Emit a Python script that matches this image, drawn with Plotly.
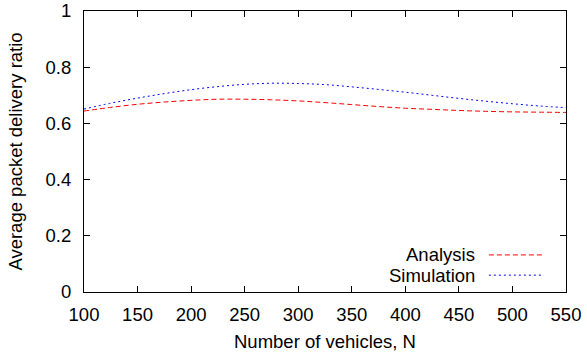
import plotly.graph_objects as go

N = [100, 125, 150, 175, 200, 225, 250, 275, 300, 325, 350, 375, 400, 425, 450, 475, 500, 525, 550]
simulation = [0.651, 0.672, 0.690, 0.706, 0.720, 0.731, 0.739, 0.743, 0.742, 0.738, 0.730, 0.721,
              0.711, 0.700, 0.689, 0.679, 0.670, 0.662, 0.656]
analysis = [0.644, 0.657, 0.668, 0.676, 0.682, 0.686, 0.686, 0.684, 0.680, 0.674, 0.667, 0.660,
            0.654, 0.650, 0.646, 0.643, 0.641, 0.640, 0.639]
x_ticks = [100, 150, 200, 250, 300, 350, 400, 450, 500, 550]
y_ticks = [0, 0.2, 0.4, 0.6, 0.8, 1]
y_tick_labels = ["0", "0.2", "0.4", "0.6", "0.8", "1"]

FONT = "Liberation Sans, Arial, sans-serif"
FS = 18.5
RED = "#ff0000"
BLUE = "#0000ff"
RED_DASH = "5px,3px"
BLUE_DASH = "2px,3px"

fig = go.Figure()
fig.add_trace(go.Scatter(x=N, y=analysis, mode="lines", name="Analysis",
                         line=dict(color=RED, width=1, dash=RED_DASH, shape="spline")))
fig.add_trace(go.Scatter(x=N, y=simulation, mode="lines", name="Simulation",
                         line=dict(color=BLUE, width=1, dash=BLUE_DASH, shape="spline")))

# gnuplot-style legend: text on the left, sample line on the right
legend_rows = [("Analysis", RED, RED_DASH, 0.132), ("Simulation", BLUE, BLUE_DASH, 0.060)]
for label, color, dash, yy in legend_rows:
    fig.add_annotation(x=0.815, y=yy, xref="paper", yref="paper", text=label, showarrow=False,
                       xanchor="right", yanchor="middle", font=dict(family=FONT, size=FS, color="black"))
    fig.add_shape(type="line", xref="paper", yref="paper", x0=0.840, x1=0.952, y0=yy, y1=yy,
                  line=dict(color=color, width=1, dash=dash))

axis_common = dict(showline=True, linecolor="black", linewidth=1, mirror="allticks",
                   ticks="inside", ticklen=6, tickcolor="black", showgrid=False, zeroline=False,
                   automargin=False,
                   tickfont=dict(family=FONT, size=FS, color="black"))

fig.update_layout(
    width=587, height=358,
    margin=dict(l=84, r=21, t=11, b=66, autoexpand=False),
    paper_bgcolor="white", plot_bgcolor="white",
    showlegend=False,
    font=dict(family=FONT, size=FS, color="black"),
    xaxis=dict(range=[100, 550], tickvals=x_ticks, ticklabelstandoff=6,
               title=dict(text="Number of vehicles, N", font=dict(family=FONT, size=FS), standoff=10),
               **axis_common),
    yaxis=dict(range=[0, 1], tickvals=y_ticks, ticktext=y_tick_labels, ticklabelstandoff=8,
               title=dict(text="Average packet delivery ratio", font=dict(family=FONT, size=FS), standoff=18),
               **axis_common),
)

fig.write_html("out.html")
